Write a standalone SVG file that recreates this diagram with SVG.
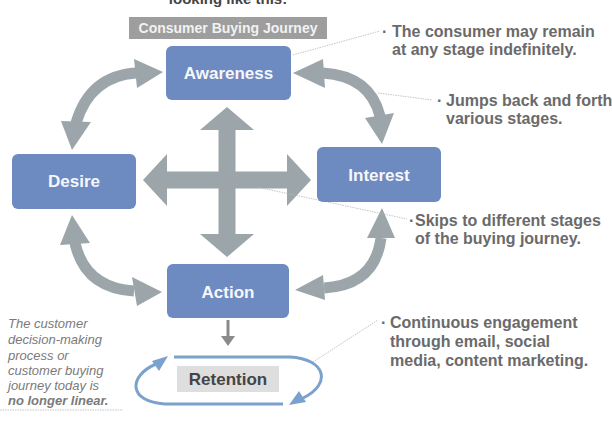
<svg xmlns="http://www.w3.org/2000/svg" width="612" height="421" viewBox="0 0 612 421">
<style>
.box{fill:#6d8ac1;}
.nt{font-family:"Liberation Sans",Arial,sans-serif;font-weight:bold;font-size:17px;fill:#f5f7fb;text-anchor:middle;}
.shaft{fill:none;stroke:#9ca5aa;stroke-width:11;}
.head{fill:#9ca5aa;}
.lead{fill:none;stroke:#b5b5b5;stroke-width:0.8;stroke-dasharray:1.5 1;}
.bul{font-family:"Liberation Sans",Arial,sans-serif;font-weight:bold;font-size:16px;fill:#6a6a6a;}
.ital{font-family:"Liberation Sans",Arial,sans-serif;font-style:italic;font-size:13px;fill:#7a7a7a;}
.loop{fill:none;stroke:#7ba2cc;stroke-width:3;}
.lhead{fill:#7ba2cc;}
</style>
<rect width="612" height="421" fill="#ffffff"/>
<text x="228" y="4" font-family="Liberation Sans,Arial,sans-serif" font-weight="bold" font-size="15" fill="#444" text-anchor="middle">looking like this:</text>
<g id="title">
<rect x="129" y="17" width="198" height="22" fill="#9e9e9e"/>
<text x="228" y="33" font-family="Liberation Sans,Arial,sans-serif" font-weight="bold" font-size="14" fill="#f2f2f2" text-anchor="middle">Consumer Buying Journey</text>
</g>
<g id="connectors">
<polygon class="head" points="227,107 254,130 235.5,130 235.5,171.5 287,171.5 287,154 311,180 287,206 287,188.5 235.5,188.5 235.5,234 254,234 227,257 200,234 218.5,234 218.5,188.5 167,188.5 167,206 143,180 167,154 167,171.5 218.5,171.5 218.5,130 200,130"/>
<path class="shaft" d="M 136 73 Q 90 76 76 123"/>
<polygon class="head" points="163,72 134,59 137,88"/>
<polygon class="head" points="72,150 61,121 91,122"/>
<path class="shaft" d="M 323 73 Q 370 76 380 116"/>
<polygon class="head" points="293,73 323,59 325,88"/>
<polygon class="head" points="382,144 365,118 394,113"/>
<path class="shaft" d="M 75 243 Q 85 288 134 291"/>
<polygon class="head" points="72,215 60,245 90,243"/>
<polygon class="head" points="162,292 132,277 137,306"/>
<path class="shaft" d="M 381 238 Q 375 285 324 288"/>
<polygon class="head" points="382,208 367,238 395,238"/>
<polygon class="head" points="295,290 323,275 325,300"/>
<line x1="228" y1="320" x2="228" y2="338" stroke="#8a8a8a" stroke-width="3"/>
<polygon points="221,336 235,336 228,346" fill="#8a8a8a"/>
<path class="loop" d="M 174 357 L 290 357 C 326 359 332 384 303 398"/>
<polygon class="lhead" points="289,405 299,391 306,402"/>
<path class="loop" d="M 283 404 L 165 404 C 128 402 128 376 156 364"/>
<polygon class="lhead" points="168,356 152,361 159,371"/>
<line class="lead" x1="293" y1="55" x2="380" y2="31"/>
<line class="lead" x1="378" y1="93" x2="432" y2="100"/>
<line class="lead" x1="257" y1="187" x2="407" y2="219"/>
<line class="lead" x1="313" y1="362" x2="378" y2="320"/>
<line class="lead" x1="0" y1="410" x2="123" y2="410"/>
</g>
<g id="awareness">
<rect class="box" x="166" y="46" width="125" height="54" rx="6"/>
<text class="nt" x="228.5" y="79">Awareness</text>
</g>
<g id="desire">
<rect class="box" x="12" y="154" width="124" height="55" rx="6"/>
<text class="nt" x="74" y="187">Desire</text>
</g>
<g id="interest">
<rect class="box" x="317" y="147" width="124" height="55" rx="6"/>
<text class="nt" x="379" y="181">Interest</text>
</g>
<g id="action">
<rect class="box" x="167" y="264" width="122" height="54" rx="6"/>
<text class="nt" x="228" y="298">Action</text>
</g>
<g id="retention">
<rect x="177" y="366" width="102" height="26" fill="#dedede"/>
<text x="228" y="385" font-family="Liberation Sans,Arial,sans-serif" font-weight="bold" font-size="17" fill="#444" text-anchor="middle">Retention</text>
</g>
<g id="note1">
<text class="bul" x="382" y="37">·</text>
<text class="bul" x="392" y="37">The consumer may remain</text>
<text class="bul" x="392" y="55">at any stage indefinitely.</text>
</g>
<g id="note2">
<text class="bul" x="437" y="106">·</text>
<text class="bul" x="446" y="106">Jumps back and forth</text>
<text class="bul" x="446" y="124">various stages.</text>
</g>
<g id="note3">
<text class="bul" x="409" y="226">·</text>
<text class="bul" x="415" y="226">Skips to different stages</text>
<text class="bul" x="415" y="244">of the buying journey.</text>
</g>
<g id="note4">
<text class="bul" x="381" y="328">·</text>
<text class="bul" x="390" y="328">Continuous engagement</text>
<text class="bul" x="390" y="347">through email, social</text>
<text class="bul" x="390" y="366">media, content marketing.</text>
</g>
<g id="note5">
<text class="ital" x="8" y="328">The customer</text>
<text class="ital" x="8" y="344">decision-making</text>
<text class="ital" x="8" y="360">process or</text>
<text class="ital" x="8" y="375">customer buying</text>
<text class="ital" x="8" y="390">journey today is</text>
<text class="ital" x="8" y="405" font-weight="bold" fill="#333">no longer linear.</text>
</g>
</svg>
